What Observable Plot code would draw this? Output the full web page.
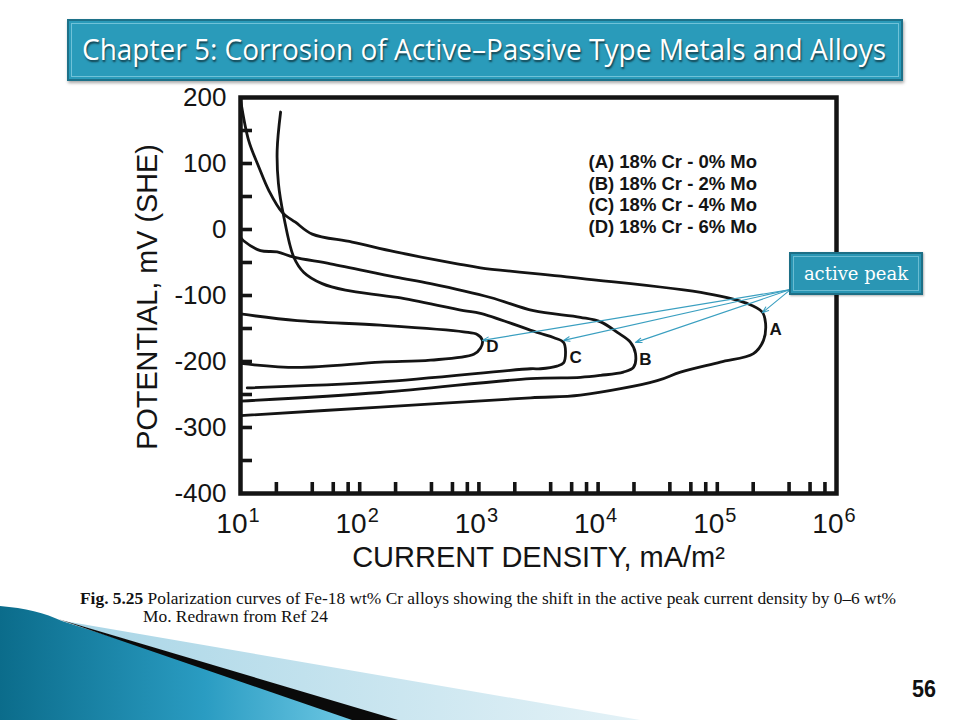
<!DOCTYPE html>
<html>
<head>
<meta charset="utf-8">
<script src="https://cdn.jsdelivr.net/npm/d3@7"></script>
<script src="https://cdn.jsdelivr.net/npm/@observablehq/plot@0.6"></script>
<style>
  html, body { margin:0; padding:0; background:#fff; }
  #slide { position:relative; width:960px; height:720px; overflow:hidden; background:#fff; }
  #chart { position:absolute; left:0; top:0; }
  #deco { position:absolute; left:0; top:0; pointer-events:none; }
  .titlebox { position:absolute; left:67px; top:19px; width:836px; height:62px; box-sizing:border-box;
    background:#2a9bba; border:2px solid #1d7189; box-shadow:1px 2px 3px rgba(0,0,0,0.35); }
  .titlebox::after { content:""; position:absolute; left:2px; top:2px; right:2px; bottom:2px;
    border:1px solid rgba(170,225,240,0.55); }
  .fit { position:absolute; white-space:nowrap; display:inline-block; transform-origin:0 50%; }
  #titleText { left:82px; top:34px; font-family:"Open Sans", sans-serif; font-size:30px; line-height:30px;
    color:#fff; text-shadow:1px 2px 2px rgba(0,0,0,0.6); }
  #callout { position:absolute; box-sizing:border-box; width:134px; height:43px; background:#2a96b4;
    border:2px solid #1d6f86; box-shadow:1px 1px 2px rgba(0,0,0,0.3); display:flex; align-items:center;
    justify-content:center; color:#fff; font-family:"DejaVu Serif", serif; font-size:18px; }
  #callout::after { content:""; position:absolute; left:2px; top:2px; right:2px; bottom:2px;
    border:1px solid rgba(170,225,240,0.5); }
  #cap1 { left:80px; top:590px; font-family:"Liberation Serif", serif; font-size:17.5px; line-height:17px; color:#111; }
  #cap2 { left:143px; top:608px; font-family:"Liberation Serif", serif; font-size:17.5px; line-height:17px; color:#111; }
  #pageNum { left:912px; top:678px; font-family:"Liberation Sans", Arial, sans-serif; font-weight:bold; font-size:23px; line-height:23px; color:#111; }
</style>
</head>
<body>
<div id="slide">
  <div id="chart"></div>
  <svg id="deco" width="960" height="720">
    <defs>
      <linearGradient id="tealG" x1="0" y1="0" x2="1" y2="0">
        <stop offset="0" stop-color="#0b6c8b"/>
        <stop offset="0.55" stop-color="#2a9cc2"/>
        <stop offset="1" stop-color="#76cde8"/>
      </linearGradient>
      <linearGradient id="paleG" x1="0" y1="0" x2="1" y2="0">
        <stop offset="0" stop-color="#a8d5e6"/>
        <stop offset="1" stop-color="#e4f2f7"/>
      </linearGradient>
    </defs>
    <path d="M0,606 C25,608 45,613 62,621 L372,720 L0,720 Z" fill="url(#tealG)"/>
    <path d="M64,621 L640,720 L395,720 Z" fill="url(#paleG)"/>
    <path d="M58,619 L398,720 L352,720 Z" fill="#0a0a0a"/>
  </svg>
  <div class="titlebox"></div>
  <span id="titleText" class="fit"></span>
  <div id="callout"></div>
  <span id="cap1" class="fit"></span>
  <span id="cap2" class="fit"></span>
  <span id="pageNum" class="fit"></span>
</div>
<script>
// ---------- data ----------
const alloys = ["A", "B", "C", "D"];
const moPercent = [0, 2, 4, 6];

// current density (mA/m²) and potential (mV SHE), traced from Ecorr through the active nose to the passive branch
const curveA_current   = [10, 149, 2710, 7110, 31300, 49100, 106000, 201000, 244000, 254000, 238000, 178000, 82200, 7110, 1030, 658, 200, 86.5, 40, 28.9, 22.4, 17.3, 14.3, 11.7, 10];
const curveA_potential = [-282, -269, -255, -251, -229, -216, -201, -188, -168, -142, -125, -112, -97, -74, -58, -52, -34, -19, -7, 11, 26, 59, 94, 135, 197];

const curveB_current   = [10, 149, 2710, 7110, 10500, 16300, 19800, 20600, 18700, 14500, 10500, 7110, 2870, 1250, 393, 200, 56.9, 28, 20.3, 14.7, 10.6, 10];
const curveB_potential = [-260, -247, -226, -224, -221, -216, -209, -188, -171, -156, -140, -133, -123, -103, -82, -72, -52, -42, -34, -32, -17, -12];

const curveC_current   = [11.4, 149, 2710, 3290, 4520, 5130, 5330, 5130, 4270, 3080, 1030, 743, 207, 76, 48.4, 34, 28, 23.1, 20.8, 20.3, 21.7];
const curveC_potential = [-240, -231, -211, -211, -207, -202, -185, -171, -164, -156, -127, -123, -103, -92, -82, -65, -42, 19, 70, 120, 178];

const curveD_current   = [10, 29.9, 149, 393, 906, 1030, 1070, 968, 743, 149, 29.9, 10];
const curveD_potential = [-203, -209, -201, -198, -189, -180, -168, -159, -155, -145, -138, -128];

// active peak points the callout arrows aim at
const peakCurrent   = [239000, 20600, 5130, 1070];
const peakPotential = [-126, -171, -168, -168];
const callout = {label: "active peak", current: 411000, potential: -91};

// axes
const yTickLabels = [200, 100, 0, -100, -200, -300, -400];
const yMinorTicks = [150, 100, 50, 0, -50, -100, -150, -200, -250, -300, -350];
const xDecadeExponents = [1, 2, 3, 4, 5, 6];
const xTickMultipliers = [2, 4, 6, 8, 10];
const yTitle = "POTENTIAL, mV (SHE)";
const xTitle = "CURRENT DENSITY, mA/m²";

const slideTitle = "Chapter 5: Corrosion of Active–Passive Type Metals and Alloys";
const captionBold = "Fig. 5.25";
const captionLine1 = " Polarization curves of Fe-18 wt% Cr alloys showing the shift in the active peak current density by 0–6 wt%";
const captionLine2 = "Mo. Redrawn from Ref 24";
const pageNumber = "56";

// ---------- build tables ----------
const curveTable = [
  {alloy: "A", current: curveA_current, potential: curveA_potential},
  {alloy: "B", current: curveB_current, potential: curveB_potential},
  {alloy: "C", current: curveC_current, potential: curveC_potential},
  {alloy: "D", current: curveD_current, potential: curveD_potential}
];
const points = curveTable.flatMap(c => c.current.map((x, i) => ({alloy: c.alloy, current: x, potential: c.potential[i]})));
const noses = curveTable.map(c => {
  const i = d3.maxIndex(c.current);
  return {alloy: c.alloy, current: c.current[i], potential: c.potential[i]};
});
const peaks = alloys.map((a, i) => ({alloy: a, current: peakCurrent[i], potential: peakPotential[i]}));
const legendText = alloys.map((a, i) => `(${a}) 18% Cr - ${moPercent[i]}% Mo`).join("\n");
const decades = xDecadeExponents.map(e => 10 ** e);
const xMinorTicks = decades.slice(0, -1).flatMap(d => xTickMultipliers.map(m => m * d)).filter(v => v > 10 && v < 1e6);

const ink = "#141414";
const plot = Plot.plot({
  width: 960,
  height: 620,
  marginLeft: 240,
  marginRight: 124,
  marginTop: 97,
  marginBottom: 127,
  x: {type: "log", domain: [10, 1e6], axis: null},
  y: {domain: [-400, 200], axis: null},
  style: {fontFamily: "'Liberation Sans', Arial, Helvetica, sans-serif", color: ink, background: "transparent"},
  marks: [
    Plot.line(points, {x: "current", y: "potential", z: "alloy", curve: "catmull-rom",
      stroke: ink, strokeWidth: 2.8, strokeLinejoin: "round", strokeLinecap: "round"}),
    Plot.arrow(peaks, {x1: () => callout.current, y1: () => callout.potential, x2: "current", y2: "potential",
      stroke: "#3a9fc0", strokeWidth: 1.1, headLength: 9, headAngle: 40, bend: 0}),
    Plot.text(noses, {x: "current", y: "potential", text: "alloy", dx: 10, dy: 6,
      fontSize: 17, fontWeight: "bold", fill: ink}),
    Plot.text([legendText], {frameAnchor: "top-left", dx: 348, dy: 55, textAnchor: "start", lineAnchor: "top",
      lineHeight: 1.173, fontSize: 18.5, fontWeight: "bold", fill: ink, ariaLabel: "legend"}),
    Plot.tickY(yMinorTicks, {y: d => d, insetRight: 596 - 12, stroke: ink, strokeWidth: 3.6}),
    Plot.tickX(xMinorTicks, {x: d => d, insetTop: 396 - 11, stroke: ink, strokeWidth: 3.6}),
    Plot.frame({stroke: ink, strokeWidth: 4.5}),
    Plot.axisY(yTickLabels, {tickSize: 0, tickPadding: 14, fontSize: 26, label: null, tickFormat: d => String(d)}),
    Plot.text(decades, {x: d => d, frameAnchor: "bottom", text: () => "10", textAnchor: "end", dx: 7, dy: 39, fontSize: 28, fill: ink}),
    Plot.text(xDecadeExponents, {x: e => 10 ** e, frameAnchor: "bottom", text: e => String(e), textAnchor: "start", dx: 8, dy: 28, fontSize: 20, fill: ink}),
    Plot.text([yTitle], {frameAnchor: "left", text: d => d, textAnchor: "middle", rotate: -90, dx: -92.5, dy: 1.5, fontSize: 28.8, fill: ink, ariaLabel: "ytitle"}),
    Plot.text([xTitle], {frameAnchor: "bottom", text: d => d, textAnchor: "middle", dy: 73, fontSize: 29, fill: ink, ariaLabel: "xtitle"})
  ]
});
document.getElementById("chart").appendChild(plot);

// callout box placed through the scales
const sx = plot.scale("x"), sy = plot.scale("y");
const cEl = document.getElementById("callout");
cEl.textContent = callout.label;
cEl.style.left = (sx.apply(callout.current) - 1) + "px";
cEl.style.top = (sy.apply(callout.potential) - 37) + "px";

// texts
function fit(el, w) {
  el.style.transform = "none";
  const k = w / el.getBoundingClientRect().width;
  el.style.transform = `scaleX(${k})`;
  return k;
}
const tEl = document.getElementById("titleText");
tEl.textContent = slideTitle;
fit(tEl, 804);
const c1 = document.getElementById("cap1");
const b = document.createElement("b"); b.textContent = captionBold;
c1.appendChild(b); c1.appendChild(document.createTextNode(captionLine1));
const k1 = fit(c1, 816);
const c2 = document.getElementById("cap2");
c2.textContent = captionLine2;
c2.style.transform = `scaleX(${k1})`;
const pEl = document.getElementById("pageNum");
pEl.textContent = pageNumber;
fit(pEl, 24);
</script>
</body>
</html>
